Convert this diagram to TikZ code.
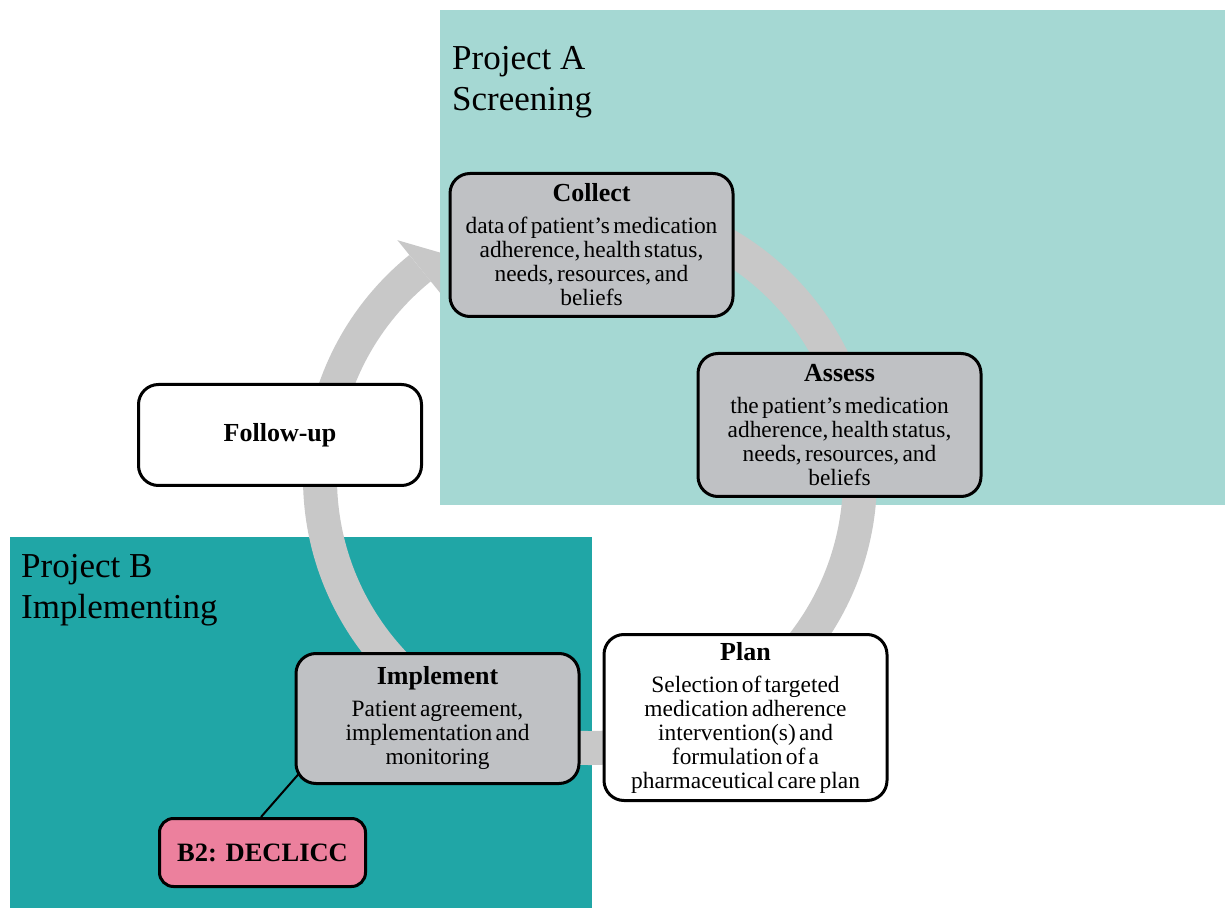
\documentclass[tikz,border=0pt]{standalone}
\usepackage{fontspec}
\setmainfont{Liberation Serif}
\usetikzlibrary{calc}
\pgfdeclarelayer{bg}
\pgfdeclarelayer{mid}
\pgfsetlayers{bg,mid,main}

\definecolor{screenteal}{HTML}{A5D8D3}
\definecolor{implteal}{HTML}{20A6A6}
\definecolor{cardgray}{HTML}{BFC1C4}
\definecolor{ringgray}{HTML}{C8C8C8}
\definecolor{declicc}{HTML}{EC809D}

\newcommand\cardtitle[1]{{\fontsize{26}{30}\selectfont\bfseries #1\par}\vspace{8pt}}
\newcommand\cardbody{\fontsize{23.4}{24}\selectfont}

\tikzset{
  card/.style={draw=black, line width=3pt, rounded corners=20pt,
    text width=276pt, align=center, inner sep=0pt, minimum width=283pt},
  graycard/.style={card, fill=cardgray},
  whitecard/.style={card, fill=white},
  heading/.style={anchor=north west, align=left, inner sep=0pt,
    font=\fontsize{35}{41.5}\selectfont},
  ringband/.style={draw=ringgray, line width=34pt},
  link/.style={draw=black, line width=2pt}
}

\begin{document}
\begin{tikzpicture}[x=1pt,y=1pt]
\useasboundingbox (0,0) rectangle (1225,908);
\coordinate (c) at (590,430);

% project areas, cycle ring and its arrowhead
\begin{pgfonlayer}{bg}
  \fill[screenteal] (440,403) rectangle (1225,898);
  \fill[implteal] (10,0) rectangle (592,371);
  \draw[ringband] ($(c)+(129:270)$) arc[start angle=129, end angle=420, radius=270];
  \begin{scope}
    \clip (0,0) rectangle (440,908);
    \fill[ringgray] ($(c)+(129:306)$) -- ($(c)+(123.5:270)$) -- ($(c)+(129:234)$) -- cycle;
  \end{scope}
\end{pgfonlayer}

\node[heading] (pa) at (452,862) {Project A\\Screening};
\node[heading] (pb) at (21,354) {Project B\\Implementing};

% cycle steps
\node[graycard, minimum height=143pt] (collect) at (591.5,663)
  {\cardtitle{Collect}\cardbody data of patient’s medication\\adherence, health status,\\needs, resources, and\\beliefs\par};
\node[graycard, minimum height=143pt] (assess) at (839.5,483)
  {\cardtitle{Assess}\cardbody the patient’s medication\\adherence, health status,\\needs, resources, and\\beliefs\par};
\node[whitecard, minimum height=166pt] (plan) at (745.5,190.5)
  {\cardtitle{Plan}\cardbody Selection of targeted\\medication adherence\\intervention(s) and\\formulation of a\\pharmaceutical care plan\par};
\node[graycard, minimum height=130pt] (impl) at (437.5,189.5)
  {\cardtitle{Implement}\cardbody Patient agreement,\\implementation and\\monitoring\par};
\node[whitecard, minimum height=101pt] (follow) at (280,473)
  {\fontsize{26}{30}\selectfont\bfseries Follow-up};

% sub-project
\node[draw=black, line width=3pt, rounded corners=14pt, fill=declicc,
  minimum width=206pt, minimum height=68pt, inner sep=0pt,
  font=\fontsize{26.5}{30}\selectfont\bfseries] (b2) at (262.5,55.5) {B2: DECLICC};

\begin{pgfonlayer}{mid}
  \draw[link] ($(impl.south west)+(8.5,16)$) -- ($(b2.north west)+(103,0)$);
\end{pgfonlayer}
\end{tikzpicture}
\end{document}
